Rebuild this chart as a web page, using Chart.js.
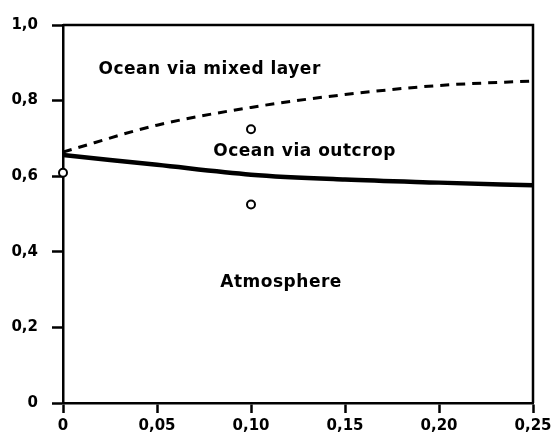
<!doctype html>
<html lang="en">
  <head>
    <meta charset="utf-8">
    <title>Ocean / Atmosphere fractions</title>
    <style>
      html, body { margin: 0; padding: 0; background: #fff; }
      #wrap { width: 553px; height: 439px; }
    </style>
  </head>
  <body>
    <div id="wrap"><canvas id="myChart"></canvas></div>

    <script src="https://cdn.jsdelivr.net/npm/chart.js"></script>
    <script>
      // data
      const xValues = [0, 0.05, 0.10, 0.15, 0.20, 0.25];
      const mixedLayer = [0.664, 0.735, 0.782, 0.816, 0.840, 0.852];   // dashed
      const outcrop = [0.656, 0.630, 0.604, 0.591, 0.583, 0.576];      // solid
      const obsX = [0, 0.10, 0.10];
      const obsY = [0.609, 0.724, 0.525];

      const xTickValues = [0, 0.05, 0.10, 0.15, 0.20, 0.25];
      const xTickLabels = ['0', '0,05', '0,10', '0,15', '0,20', '0,25'];
      const yTickValues = [0, 0.2, 0.4, 0.6, 0.8, 1.0];
      const yTickLabels = ['0', '0,2', '0,4', '0,6', '0,8', '1,0'];

      const labelTexts = ['Ocean via mixed layer', 'Ocean via outcrop', 'Atmosphere'];
      const labelX = [0.078, 0.1285, 0.116];
      const labelY = [0.882, 0.664, 0.318];

      const FONT = '"DejaVu Sans", sans-serif';

      // box round the plot + the text labels
      const framePlugin = {
        id: 'frame',
        beforeDatasetsDraw(chart) {
          const a = chart.chartArea, c = chart.ctx;
          c.save();
          c.strokeStyle = '#000';
          c.lineWidth = 2.5;
          c.beginPath();
          c.moveTo(a.left, a.top);
          c.lineTo(a.right, a.top);
          c.lineTo(a.right, a.bottom);
          c.stroke();
          c.restore();
        },
        afterDatasetsDraw(chart) {
          const c = chart.ctx, xs = chart.scales.x, ys = chart.scales.y;
          c.save();
          c.fillStyle = '#000';
          c.font = 'bold 17px ' + FONT;
          c.letterSpacing = '0.5px';
          c.textAlign = 'center';
          c.textBaseline = 'middle';
          labelTexts.forEach(function(t, i){
            c.fillText(t, xs.getPixelForValue(labelX[i]), ys.getPixelForValue(labelY[i]));
          });
          c.restore();
        }
      };

      function pts(xa, ya){
        return xa.map(function(x, i){ return {x: x, y: ya[i]}; });
      }

      const config = {
        type: 'scatter',
        data: {
          datasets: [{
            type: 'line',
            data: pts(xValues, mixedLayer),
            borderColor: '#000',
            borderWidth: 3,
            borderDash: [9, 7],
            pointRadius: 0,
            fill: false,
            cubicInterpolationMode: 'monotone'
          }, {
            type: 'line',
            data: pts(xValues, outcrop),
            borderColor: '#000',
            borderWidth: 4.5,
            pointRadius: 0,
            fill: false,
            cubicInterpolationMode: 'monotone'
          }, {
            data: pts(obsX, obsY),
            clip: false,
            pointStyle: 'circle',
            pointRadius: 4,
            pointBackgroundColor: '#fff',
            pointBorderColor: '#000',
            pointBorderWidth: 2
          }]
        },
        options: {
          responsive: true,
          maintainAspectRatio: false,
          animation: false,
          layout: { padding: { top: 25, right: 20, left: 0, bottom: 0 } },
          plugins: { legend: { display: false }, tooltip: { enabled: false } },
          scales: {
            x: {
              type: 'linear',
              min: 0, max: 0.25,
              afterBuildTicks(s){ s.ticks = xTickValues.map(function(v){ return {value: v}; }); },
              afterFit(s){ s.height = 36; s.paddingLeft = 0; s.paddingRight = 0; },
              border: { color: '#000', width: 2.5 },
              grid: { drawOnChartArea: false, tickLength: 10, tickWidth: 2.5, tickColor: '#000' },
              ticks: {
                color: '#000',
                padding: 4,
                maxRotation: 0,
                font: { family: FONT, size: 15, weight: 'bold' },
                callback: function(v){ return xTickLabels[xTickValues.indexOf(v)]; }
              }
            },
            y: {
              min: 0, max: 1,
              afterBuildTicks(s){ s.ticks = yTickValues.map(function(v){ return {value: v}; }); },
              afterFit(s){ s.width = 63; s.paddingTop = 0; s.paddingBottom = 0; },
              border: { color: '#000', width: 2.5 },
              grid: { drawOnChartArea: false, tickLength: 11, tickWidth: 2.5, tickColor: '#000' },
              ticks: {
                color: '#000',
                padding: 14,
                font: { family: FONT, size: 15, weight: 'bold' },
                callback: function(v){ return yTickLabels[yTickValues.indexOf(v)]; }
              }
            }
          }
        },
        plugins: [framePlugin]
      };

      const myChart = new Chart(document.getElementById('myChart'), config);
    </script>
  </body>
</html>
